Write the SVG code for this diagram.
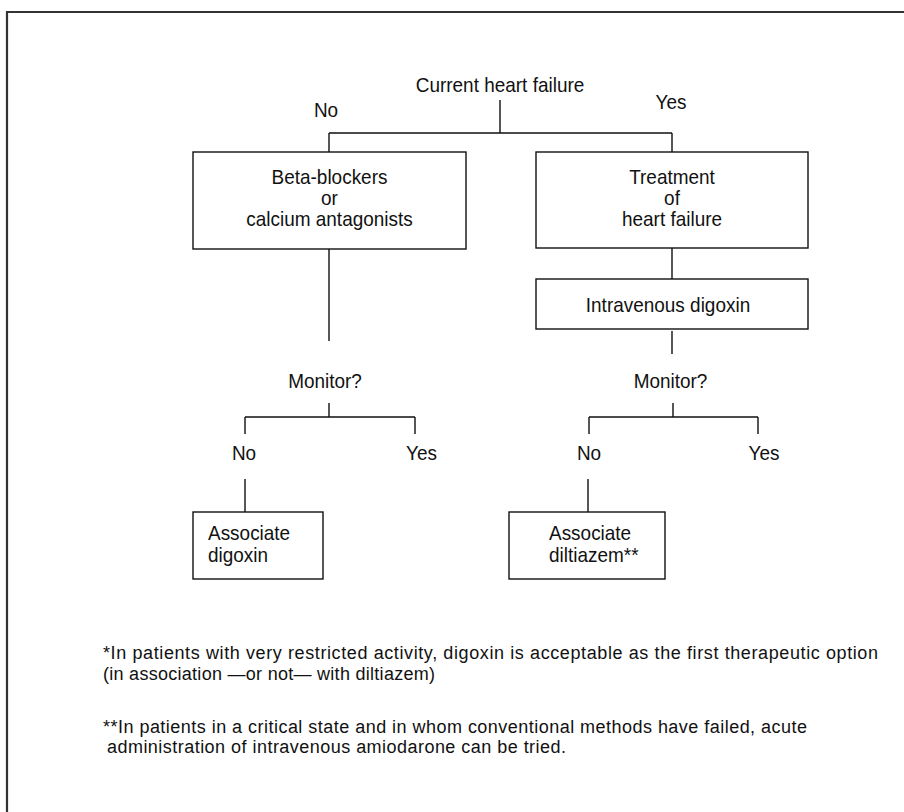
<svg xmlns="http://www.w3.org/2000/svg" width="904" height="812" viewBox="0 0 904 812">
<style>
  text { font-family: "Liberation Sans", Arial, sans-serif; font-size: 20.5px; fill: #111; }
  .c { text-anchor: middle; }
  .fn { font-size: 18px; }
  .box { fill: #fff; stroke: #111; stroke-width: 1.4; }
  .ln { fill: none; stroke: #111; stroke-width: 1.4; }
  .frame { fill: none; stroke: #333; stroke-width: 2.2; }
</style>
<rect width="904" height="812" fill="#fff"/>
<path class="frame" d="M7,812 V12 H904"/>

<g id="connectors">
  <path class="ln" d="M500,100 V133 M329,133 H672 M329,133 V152 M672,133 V152"/>
  <path class="ln" d="M329,249 V341"/>
  <path class="ln" d="M672,248 V279"/>
  <path class="ln" d="M672,331 V354"/>
  <path class="ln" d="M329,403 V417 M245,417 H415 M245,417 V434 M415,417 V434"/>
  <path class="ln" d="M673,403 V417 M589,417 H758 M589,417 V434 M758,417 V434"/>
  <path class="ln" d="M245,479 V512"/>
  <path class="ln" d="M588,479 V512"/>
</g>

<g id="q-heart-failure">
  <text class="c" transform="translate(500,92) scale(0.925,1)">Current heart failure</text>
  <text class="c" transform="translate(326,117) scale(0.925,1)">No</text>
  <text class="c" transform="translate(671,109) scale(0.925,1)">Yes</text>
</g>

<g id="n-beta">
  <rect class="box" x="193" y="152" width="273" height="97"/>
  <text class="c" transform="translate(329.5,184) scale(0.925,1)">Beta-blockers</text>
  <text class="c" transform="translate(329.5,205) scale(0.925,1)">or</text>
  <text class="c" transform="translate(329.5,226) scale(0.925,1)">calcium antagonists</text>
</g>

<g id="n-treatment">
  <rect class="box" x="536" y="152" width="272" height="96"/>
  <text class="c" transform="translate(672,184) scale(0.925,1)">Treatment</text>
  <text class="c" transform="translate(672,205) scale(0.925,1)">of</text>
  <text class="c" transform="translate(672,226) scale(0.925,1)">heart failure</text>
</g>

<g id="n-iv-digoxin">
  <rect class="box" x="536" y="279" width="272" height="50"/>
  <text class="c" transform="translate(668,312) scale(0.925,1)">Intravenous digoxin</text>
</g>

<g id="q-monitor-left">
  <text class="c" transform="translate(325,388) scale(0.925,1)">Monitor?</text>
  <text class="c" transform="translate(244,460) scale(0.925,1)">No</text>
  <text class="c" transform="translate(421.5,460) scale(0.925,1)">Yes</text>
</g>

<g id="q-monitor-right">
  <text class="c" transform="translate(670.5,388) scale(0.925,1)">Monitor?</text>
  <text class="c" transform="translate(589,460) scale(0.925,1)">No</text>
  <text class="c" transform="translate(764,460) scale(0.925,1)">Yes</text>
</g>

<g id="n-assoc-digoxin">
  <rect class="box" x="193" y="512" width="130" height="67"/>
  <text transform="translate(208,540) scale(0.925,1)">Associate</text>
  <text transform="translate(208,562) scale(0.925,1)">digoxin</text>
</g>

<g id="n-assoc-diltiazem">
  <rect class="box" x="509" y="512" width="156" height="67"/>
  <text transform="translate(549,540) scale(0.925,1)">Associate</text>
  <text transform="translate(549,562) scale(0.925,1)">diltiazem**</text>
</g>

<g id="footnotes">
  <text class="fn" x="103" y="659" textLength="775" lengthAdjust="spacing">*In patients with very restricted activity, digoxin is acceptable as the first therapeutic option</text>
  <text class="fn" x="103" y="680" textLength="332" lengthAdjust="spacing">(in association —or not— with diltiazem)</text>
  <text class="fn" x="103" y="733" textLength="704" lengthAdjust="spacing">**In patients in a critical state and in whom conventional methods have failed, acute</text>
  <text class="fn" x="107" y="753" textLength="459" lengthAdjust="spacing">administration of intravenous amiodarone can be tried.</text>
</g>
</svg>
